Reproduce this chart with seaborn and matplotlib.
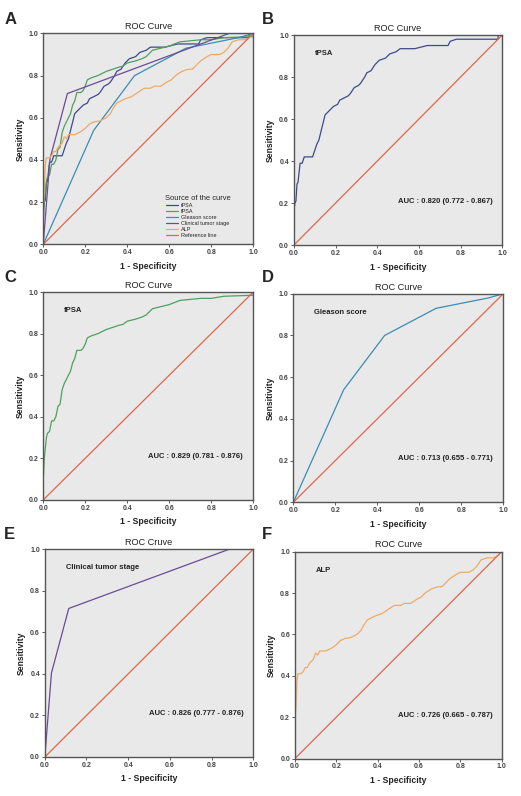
import numpy as np
import pandas as pd
import matplotlib
matplotlib.use('Agg')
import matplotlib.pyplot as plt
import seaborn as sns

# ROC curve points (1 - specificity, sensitivity)
tpsa_x = [0, 0, 0.005, 0.01, 0.015, 0.02, 0.03, 0.04, 0.05, 0.06, 0.09, 0.1, 0.11, 0.12, 0.13, 0.14,
          0.15, 0.17, 0.19, 0.21, 0.22, 0.24, 0.26, 0.27, 0.29, 0.31, 0.32, 0.34, 0.35, 0.37, 0.39,
          0.41, 0.44, 0.46, 0.49, 0.51, 0.58, 0.6, 0.64, 0.74, 0.75, 0.78, 0.98, 0.98, 1.0]
tpsa_y = [0, 0.16, 0.2, 0.21, 0.29, 0.3, 0.39, 0.39, 0.42, 0.42, 0.42, 0.45, 0.48, 0.5, 0.54, 0.58,
          0.62, 0.64, 0.66, 0.67, 0.69, 0.7, 0.71, 0.72, 0.75, 0.76, 0.77, 0.8, 0.82, 0.83, 0.86,
          0.88, 0.89, 0.91, 0.92, 0.935, 0.935, 0.94, 0.95, 0.95, 0.97, 0.98, 0.98, 1.0, 1.0]

fpsa_x = [0, 0, 0.005, 0.01, 0.015, 0.02, 0.03, 0.04, 0.05, 0.06, 0.07, 0.08, 0.09, 0.1, 0.11, 0.12,
          0.13, 0.14, 0.15, 0.16, 0.18, 0.19, 0.2, 0.21, 0.23, 0.26, 0.28, 0.3, 0.33, 0.36, 0.38,
          0.4, 0.44, 0.47, 0.49, 0.52, 0.56, 0.6, 0.65, 0.75, 0.8, 0.86, 1.0, 1.0]
fpsa_y = [0, 0.1, 0.2, 0.25, 0.3, 0.32, 0.33, 0.38, 0.38, 0.4, 0.45, 0.46, 0.53, 0.56, 0.58, 0.6,
          0.62, 0.66, 0.68, 0.72, 0.72, 0.73, 0.75, 0.78, 0.79, 0.8, 0.81, 0.82, 0.83, 0.84, 0.845,
          0.86, 0.87, 0.88, 0.89, 0.92, 0.93, 0.94, 0.96, 0.97, 0.97, 0.98, 0.985, 1.0]

gleason_x = [0, 0.24, 0.435, 0.68, 0.93, 1.0]
gleason_y = [0, 0.54, 0.80, 0.93, 0.98, 1.0]

stage_x = [0, 0.032, 0.115, 0.885, 1.0]
stage_y = [0, 0.405, 0.715, 1.0, 1.0]

alp_x = [0, 0, 0.005, 0.01, 0.015, 0.03, 0.04, 0.05, 0.06, 0.07, 0.08, 0.09, 0.1, 0.11, 0.12, 0.15,
         0.18, 0.2, 0.22, 0.24, 0.27, 0.3, 0.32, 0.33, 0.35, 0.37, 0.39, 0.42, 0.45, 0.48, 0.51,
         0.53, 0.56, 0.59, 0.61, 0.63, 0.66, 0.69, 0.71, 0.73, 0.75, 0.78, 0.8, 0.84, 0.86, 0.88,
         0.9, 0.93, 0.96, 0.98, 1.0]
alp_y = [0, 0.18, 0.25, 0.38, 0.41, 0.41, 0.42, 0.44, 0.44, 0.46, 0.47, 0.48, 0.51, 0.5, 0.52, 0.52,
         0.535, 0.55, 0.57, 0.58, 0.585, 0.6, 0.62, 0.64, 0.67, 0.68, 0.69, 0.7, 0.72, 0.74, 0.74,
         0.75, 0.75, 0.77, 0.78, 0.8, 0.82, 0.83, 0.83, 0.85, 0.87, 0.89, 0.9, 0.9, 0.91, 0.93,
         0.96, 0.97, 0.97, 0.98, 1.0]

ref_x = [0, 1]
ref_y = [0, 1]

names = ['tPSA', 'fPSA', 'Gleason score', 'Clinical tumor stage', 'ALP']
colors = ['#3d4a8c', '#4fa05e', '#3a8db5', '#6b4c96', '#f0aa65']
ref_color = '#e0664a'
auc_text = ['AUC : 0.820 (0.772 - 0.867)', 'AUC : 0.829 (0.781 - 0.876)',
            'AUC : 0.713 (0.655 - 0.771)', 'AUC : 0.826 (0.777 - 0.876)',
            'AUC : 0.726 (0.665 - 0.787)']
titles = ['ROC Curve', 'ROC Curve', 'ROC Curve', 'ROC Cruve', 'ROC Curve']
curves = [(tpsa_x, tpsa_y), (fpsa_x, fpsa_y), (gleason_x, gleason_y),
          (stage_x, stage_y), (alp_x, alp_y)]

sns.set_style('white')
plt.rcParams['font.family'] = ['Liberation Sans', 'DejaVu Sans']

fig = plt.figure(figsize=(5.21, 7.96), dpi=100)

# axes rectangles [left, bottom, width, height]
rects = {
    'A': [0.083, 0.693, 0.403, 0.265],
    'B': [0.564, 0.692, 0.400, 0.264],
    'C': [0.083, 0.372, 0.403, 0.261],
    'D': [0.563, 0.369, 0.403, 0.262],
    'E': [0.086, 0.049, 0.400, 0.261],
    'F': [0.566, 0.047, 0.397, 0.260],
}
letter_pos = {'A': (0.008, 0.975), 'B': (0.503, 0.975), 'C': (0.008, 0.652),
              'D': (0.503, 0.652), 'E': (0.008, 0.328), 'F': (0.503, 0.328)}


def style_axes(ax, title):
    ax.set_facecolor('#e9e9e9')
    ax.set_xlim(0, 1)
    ax.set_ylim(0, 1)
    ticks = [0, 0.2, 0.4, 0.6, 0.8, 1.0]
    ax.set_xticks(ticks)
    ax.set_yticks(ticks)
    ax.set_xticklabels([f'{t:.1f}' for t in ticks], fontsize=5, fontweight='bold')
    ax.set_yticklabels([f'{t:.1f}' for t in ticks], fontsize=5, fontweight='bold')
    ax.tick_params(length=2, width=0.6, pad=1.5, direction='out', colors='#444444',
                   bottom=True, left=True)
    for s in ax.spines.values():
        s.set_color('#555555')
        s.set_linewidth(1.0)
    ax.set_xlabel('1 - Specificity', fontsize=6.2, fontweight='bold', color='#222222', labelpad=4)
    ax.set_ylabel('Sensitivity', fontsize=6.2, fontweight='bold', color='#222222', labelpad=3)
    ax.set_title(title, fontsize=6.6, color='#222222', pad=3)


# Panel A: all curves
axA = fig.add_axes(rects['A'])
for (cx, cy), name, col in zip(curves, names, colors):
    d = pd.DataFrame({'x': cx, 'y': cy})
    sns.lineplot(data=d, x='x', y='y', ax=axA, sort=False, estimator=None,
                 color=col, linewidth=0.9, label=name)
sns.lineplot(x=ref_x, y=ref_y, ax=axA, color=ref_color, linewidth=0.9, label='Reference line')
style_axes(axA, 'ROC Curve')
leg = axA.legend(title='Source of the curve', loc='lower left', bbox_to_anchor=(0.56, 0.01),
                 fontsize=4.0, title_fontsize=5.4, frameon=False, handlelength=2.2,
                 labelspacing=0.2, borderpad=0.2, handletextpad=0.5)

# Panels B-F: single curves
for key, (cx, cy), name, col, auc, title in zip('BCDEF', curves, names, colors, auc_text, titles):
    ax = fig.add_axes(rects[key])
    d = pd.DataFrame({'x': cx, 'y': cy})
    sns.lineplot(data=d, x='x', y='y', ax=ax, sort=False, estimator=None,
                 color=col, linewidth=0.9)
    sns.lineplot(x=ref_x, y=ref_y, ax=ax, color=ref_color, linewidth=0.9)
    style_axes(ax, title)
    ax.text(0.1, 0.91, name, fontsize=5.5, fontweight='bold', color='#222222',
            ha='left', va='center', transform=ax.transAxes)
    ax.text(0.5, 0.21, auc, fontsize=5.5, fontweight='bold', color='#222222',
            ha='left', va='center', transform=ax.transAxes)

for k, (lx, ly) in letter_pos.items():
    fig.text(lx, ly, k, fontsize=12, fontweight='bold', ha='left', va='center')

fig.savefig('out.png', dpi=100, facecolor='white')
